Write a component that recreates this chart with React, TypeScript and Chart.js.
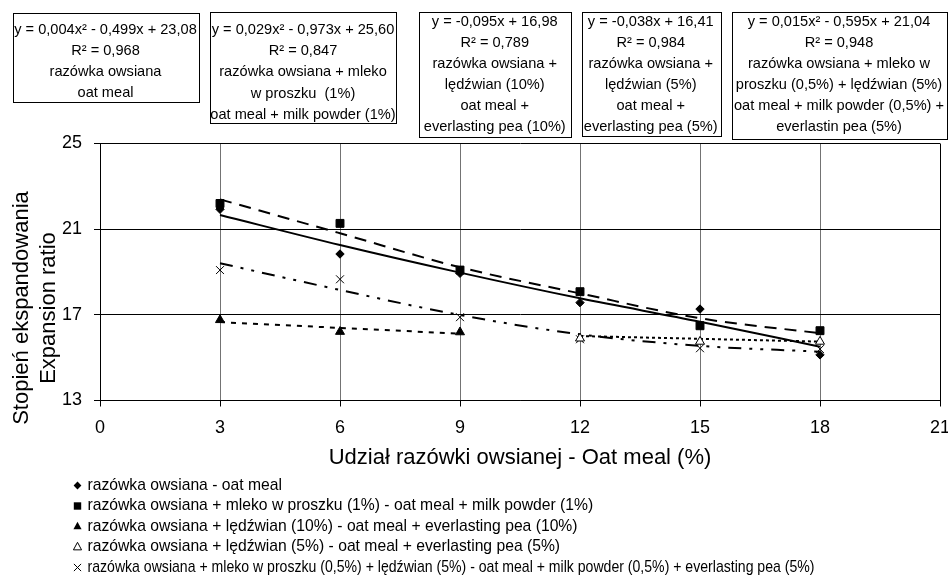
import React, { useEffect, useRef } from 'react';
import { Chart, registerables } from 'chart.js';

Chart.register(...registerables);

// ---------- data ----------
const xValues = [3, 6, 9, 12, 15, 18];
const oatMeal = [21.93, 19.84, 18.94, 17.57, 17.27, 15.13];
const oatMilk1 = [22.2, 21.27, 19.09, 18.08, 16.49, 16.26];
const pea10X = [3, 6, 9];
const oatPea10 = [16.76, 16.21, 16.19];
const pea5X = [12, 15, 18];
const oatPea5 = [15.9, 15.75, 15.75];
const oatMilkPea = [19.09, 18.66, 16.89, 15.86, 15.44, 15.4];

// trend lines
const oatMealTrend = [21.66, 20.26, 18.97, 17.77, 16.68, 15.51];
const oatMilk1Trend = [22.39, 20.81, 19.22, 18.0, 16.84, 16.14];
const oatMilkPeaTrend = [19.41, 18.16, 16.99, 16.09, 15.55, 15.28];
const pea10TrendX = [3, 9];
const oatPea10Trend = [16.66, 16.12];
const pea5TrendX = [12, 18];
const oatPea5Trend = [16.01, 15.75];

const xTickValues = [0, 3, 6, 9, 12, 15, 18, 21];
const yTickValues = [13, 17, 21, 25];

const xTitle = 'Udział razówki owsianej - Oat meal (%)';
const yTitleLines = ['Stopień ekspandowania', 'Expansion ratio'];

const seriesLabels = [
  'razówka owsiana - oat meal',
  'razówka owsiana + mleko w proszku (1%) - oat meal + milk powder (1%)',
  'razówka owsiana + lędźwian (10%) - oat meal + everlasting pea (10%)',
  'razówka owsiana + lędźwian (5%) - oat meal + everlasting pea (5%)',
  'razówka owsiana + mleko w proszku (0,5%) + lędźwian (5%) - oat meal + milk powder (0,5%) + everlasting pea (5%)',
];

const box1Lines = ['y = 0,004x² - 0,499x + 23,08', 'R² = 0,968', 'razówka owsiana', 'oat meal'];
const box2Lines = ['y = 0,029x² - 0,973x + 25,60', 'R² = 0,847', 'razówka owsiana + mleko', 'w proszku  (1%)', 'oat meal + milk powder (1%)'];
const box3Lines = ['y = -0,095x + 16,98', 'R² = 0,789', 'razówka owsiana +', 'lędźwian (10%)', 'oat meal +', 'everlasting pea (10%)'];
const box4Lines = ['y = -0,038x + 16,41', 'R² = 0,984', 'razówka owsiana +', 'lędźwian (5%)', 'oat meal +', 'everlasting pea (5%)'];
const box5Lines = ['y = 0,015x² - 0,595x + 21,04', 'R² = 0,948', 'razówka owsiana + mleko w', 'proszku (0,5%) + lędźwian (5%)', 'oat meal + milk powder (0,5%) +', 'everlastin pea (5%)'];

// ---------- layout / style ----------
const FONT = '"Liberation Sans", Arial, Helvetica, sans-serif';
const BLACK = '#000000';

const boxLayout = [
  { x: 12.5, y: 13, w: 186, h: 89, first: 30, gap: 21.1, lines: box1Lines },
  { x: 210, y: 12, w: 186, h: 111, first: 30, gap: 21.2, lines: box2Lines },
  { x: 419, y: 11.5, w: 151.5, h: 125, first: 21.7, gap: 21, lines: box3Lines },
  { x: 581.5, y: 11.5, w: 138.5, h: 124, first: 21.7, gap: 21, lines: box4Lines },
  { x: 731.5, y: 11.5, w: 215, h: 127, first: 21.7, gap: 21, lines: box5Lines },
];

const legendStyles = ['diamond', 'square', 'triangle', 'openTriangle', 'cross'];
const LEGEND_FONT = 15.7;
const LEGEND_MARK_X = 77.5;
const LEGEND_TEXT_X = 87.5;
const LEGEND_FIRST_Y = 485.5;
const LEGEND_GAP = 20.5;
const LEGEND_MAX_W = 727;

const pts = (xs: number[], ys: number[]) => xs.map((x, i) => ({ x, y: ys[i] }));

function drawLegendMarker(ctx: CanvasRenderingContext2D, kind: string, cx: number, cy: number) {
  ctx.save();
  ctx.fillStyle = BLACK;
  ctx.strokeStyle = BLACK;
  ctx.lineWidth = 1;
  ctx.beginPath();
  if (kind === 'diamond') {
    const r = 3.9;
    ctx.moveTo(cx, cy - r);
    ctx.lineTo(cx + r, cy);
    ctx.lineTo(cx, cy + r);
    ctx.lineTo(cx - r, cy);
    ctx.closePath();
    ctx.fill();
  } else if (kind === 'square') {
    ctx.rect(cx - 3.7, cy - 3.7, 7.4, 7.4);
    ctx.fill();
  } else if (kind === 'triangle' || kind === 'openTriangle') {
    const r = 4.7;
    ctx.moveTo(cx, cy - r);
    ctx.lineTo(cx + 0.866 * r, cy + 0.5 * r + 0.5);
    ctx.lineTo(cx - 0.866 * r, cy + 0.5 * r + 0.5);
    ctx.closePath();
    if (kind === 'triangle') ctx.fill();
    else ctx.stroke();
  } else {
    const r = 3.6;
    ctx.moveTo(cx - r, cy - r);
    ctx.lineTo(cx + r, cy + r);
    ctx.moveTo(cx + r, cy - r);
    ctx.lineTo(cx - r, cy + r);
    ctx.stroke();
  }
  ctx.restore();
}

const annotationsPlugin = {
  id: 'annotationsPlugin',
  afterDraw(chart: any) {
    const ctx: CanvasRenderingContext2D = chart.ctx;
    ctx.save();
    // equation boxes
    boxLayout.forEach((b) => {
      const x = Math.round(b.x) + 0.5;
      const y = Math.round(b.y) + 0.5;
      const w = Math.round(b.w);
      const h = Math.round(b.h);
      ctx.fillStyle = '#ffffff';
      ctx.fillRect(x, y, w, h);
      ctx.strokeStyle = BLACK;
      ctx.lineWidth = 1;
      ctx.strokeRect(x, y, w, h);
      ctx.fillStyle = BLACK;
      ctx.font = `14.6px ${FONT}`;
      ctx.textAlign = 'center';
      ctx.textBaseline = 'middle';
      b.lines.forEach((t, j) => {
        ctx.fillText(t, b.x + b.w / 2, b.first + j * b.gap);
      });
    });

    // y axis title (two lines, rotated)
    const area = chart.chartArea;
    ctx.fillStyle = BLACK;
    ctx.font = `22px ${FONT}`;
    ctx.textAlign = 'center';
    ctx.textBaseline = 'alphabetic';
    const titleCenterY = area.bottom - 92.5;
    [28.3, 55].forEach((bx, i) => {
      ctx.save();
      ctx.translate(bx, titleCenterY);
      ctx.rotate(-Math.PI / 2);
      ctx.fillText(yTitleLines[i], 0, 0);
      ctx.restore();
    });

    // legend
    ctx.font = `${LEGEND_FONT}px ${FONT}`;
    ctx.textAlign = 'left';
    ctx.textBaseline = 'middle';
    seriesLabels.forEach((label, i) => {
      const cy = LEGEND_FIRST_Y + i * LEGEND_GAP;
      drawLegendMarker(ctx, legendStyles[i], LEGEND_MARK_X, cy);
      ctx.fillStyle = BLACK;
      ctx.fillText(label, LEGEND_TEXT_X, cy, LEGEND_MAX_W);
    });
    ctx.restore();
  },
};

export default function App() {
  const ref = useRef<HTMLCanvasElement | null>(null);

  useEffect(() => {
    const canvas = ref.current;
    if (!canvas) return;
    const markerCommon = {
      type: 'line' as const,
      showLine: false,
      pointBackgroundColor: BLACK,
      pointBorderColor: BLACK,
      pointBorderWidth: 1,
      borderColor: BLACK,
      backgroundColor: BLACK,
    };
    const trendCommon = {
      type: 'line' as const,
      pointRadius: 0,
      borderColor: BLACK,
      backgroundColor: BLACK,
      borderWidth: 2,
      fill: false,
      borderCapStyle: 'butt' as const,
    };
    const chart = new Chart(canvas, {
      type: 'line',
      data: {
        datasets: [
          { ...markerCommon, label: seriesLabels[0], data: pts(xValues, oatMeal), pointStyle: 'rectRot', pointRadius: 4.2 },
          { ...markerCommon, label: seriesLabels[1], data: pts(xValues, oatMilk1), pointStyle: 'rect', pointRadius: 5.6 },
          { ...markerCommon, label: seriesLabels[2], data: pts(pea10X, oatPea10), pointStyle: 'triangle', pointRadius: 5.2 },
          {
            ...markerCommon,
            label: seriesLabels[3],
            data: pts(pea5X, oatPea5),
            pointStyle: 'triangle',
            pointRadius: 5.2,
            pointBackgroundColor: '#ffffff',
          },
          { ...markerCommon, label: seriesLabels[4], data: pts(xValues, oatMilkPea), pointStyle: 'crossRot', pointRadius: 5.6 },
          { ...trendCommon, label: 'trend 1', data: pts(xValues, oatMealTrend), cubicInterpolationMode: 'monotone' },
          { ...trendCommon, label: 'trend 2', data: pts(xValues, oatMilk1Trend), cubicInterpolationMode: 'monotone', borderDash: [12, 8] },
          { ...trendCommon, label: 'trend 3', data: pts(pea10TrendX, oatPea10Trend), borderDash: [5, 6] },
          { ...trendCommon, label: 'trend 4', data: pts(pea5TrendX, oatPea5Trend), borderDash: [3, 3] },
          {
            ...trendCommon,
            label: 'trend 5',
            data: pts(xValues, oatMilkPeaTrend),
            cubicInterpolationMode: 'monotone',
            borderDash: [13, 8, 3, 8, 3, 8],
          },
        ] as any,
      },
      options: {
        animation: false,
        responsive: false,
        devicePixelRatio: 1,
        events: [],
        layout: { padding: { left: 0, right: 8, top: 143.5, bottom: 105.5 } },
        plugins: {
          legend: { display: false },
          tooltip: { enabled: false },
          title: { display: false },
        },
        scales: {
          x: {
            type: 'linear',
            min: 0,
            max: 21,
            afterBuildTicks: (s: any) => {
              s.ticks = xTickValues.map((v) => ({ value: v }));
            },
            afterFit: (s: any) => {
              s.height = 75;
              s.paddingLeft = 0;
              s.paddingRight = 0;
            },
            ticks: {
              color: BLACK,
              font: { family: FONT, size: 18 },
              padding: 11.2,
              maxRotation: 0,
              autoSkip: false,
            },
            grid: {
              color: (c: any) => (c.tick && c.tick.value === 21 ? BLACK : '#737373'),
              lineWidth: 1,
              tickLength: 6,
              tickColor: BLACK,
            },
            border: { color: BLACK, width: 1 },
            title: {
              display: true,
              text: xTitle,
              color: BLACK,
              font: { family: FONT, size: 22 },
              padding: { top: 0, bottom: 4.3 },
            },
          },
          y: {
            type: 'linear',
            min: 13,
            max: 25,
            afterBuildTicks: (s: any) => {
              s.ticks = yTickValues.map((v) => ({ value: v }));
            },
            afterFit: (s: any) => {
              s.width = 100;
            },
            ticks: {
              color: BLACK,
              font: { family: FONT, size: 18 },
              padding: 12,
              autoSkip: false,
            },
            grid: {
              color: BLACK,
              lineWidth: 1,
              tickLength: 6,
              tickColor: BLACK,
            },
            border: { color: BLACK, width: 1 },
          },
        },
      } as any,
      plugins: [annotationsPlugin],
    });
    return () => chart.destroy();
  }, []);

  return (
    <div style={{ position: 'fixed', left: 0, top: 0, width: 948, height: 581, background: '#ffffff' }}>
      <canvas ref={ref} width={948} height={581} style={{ display: 'block', width: 948, height: 581 }} />
    </div>
  );
}
